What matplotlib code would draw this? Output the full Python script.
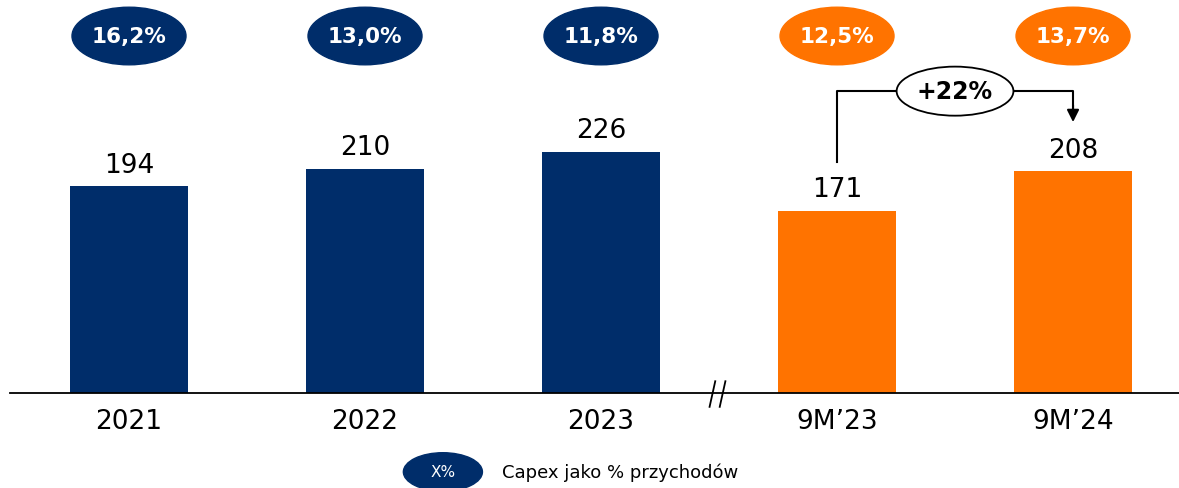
import matplotlib
matplotlib.use('Agg')
import matplotlib.pyplot as plt
from matplotlib.patches import Ellipse

# dane
categories = ['2021', '2022', '2023', '9M\u201923', '9M\u201924']
capex = [194, 210, 226, 171, 208]
pct_labels = ['16,2%', '13,0%', '11,8%', '12,5%', '13,7%']
growth_label = '+22%'

navy = '#002D6A'
orange = '#FF7300'
colors = [navy, navy, navy, orange, orange]

fig = plt.figure(figsize=(11.79, 4.89), dpi=100)
ax = fig.add_axes([0, 0, 1, 1])
x = list(range(len(categories)))

ax.bar(x, capex, width=0.5, color=colors, zorder=2)
ax.set_xlim(-0.5466, 4.449)
ax.set_ylim(-89.1, 369.4)
ax.axis('off')

# linia bazowa z przerwą
ax.plot([-0.505, 4.449], [0, 0], color='black', lw=1.3, zorder=3)
for dx in (-0.028, 0.015):
    ax.plot([2.5 + dx + 0.012, 2.5 + dx - 0.012], [11, -13], color='black', lw=1.3, zorder=4)

for xi, v, c in zip(x, capex, categories):
    ax.text(xi, v + 8, str(v), ha='center', va='bottom', fontsize=19)
    ax.text(xi, -26, c, ha='center', va='center', fontsize=19)

# elipsy z procentami
for xi, p, col in zip(x, pct_labels, colors):
    ax.add_patch(Ellipse((xi, 334.7), 0.483, 54, color=col, zorder=3))
    ax.text(xi, 334.7, p, ha='center', va='center', fontsize=15.5,
            fontweight='bold', color='white', zorder=4)

# strzałka wzrostu
top = 283
ax.plot([3, 3, 4, 4], [capex[3] + 46, top, top, capex[4] + 58],
        color='black', lw=1.5, zorder=2)
ax.annotate('', xy=(4, capex[4] + 46), xytext=(4, capex[4] + 62),
            arrowprops=dict(arrowstyle='-|>', color='black', lw=1.5,
                            mutation_scale=18, shrinkA=0, shrinkB=0))
ax.add_patch(Ellipse((3.5, top), 0.495, 46, facecolor='white',
                     edgecolor='black', lw=1.3, zorder=3))
ax.text(3.5, top, growth_label, ha='center', va='center', fontsize=17,
        fontweight='bold', zorder=4)

# legenda
ax.add_patch(Ellipse((1.33, -74), 0.335, 36, color=navy, zorder=3, clip_on=False))
ax.text(1.33, -74, 'X%', ha='center', va='center', fontsize=11, color='white', zorder=4)
ax.text(1.58, -74, 'Capex jako % przychodów', ha='left', va='center', fontsize=13)

fig.savefig('out.png', dpi=100)
